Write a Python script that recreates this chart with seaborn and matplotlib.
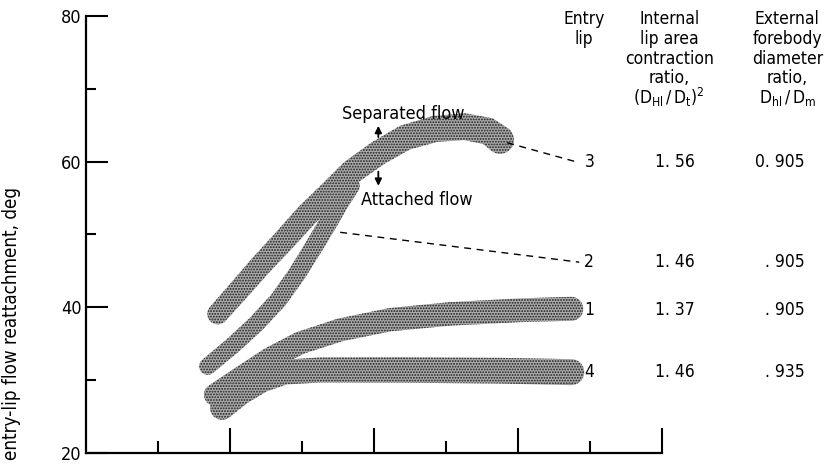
import numpy as np
import matplotlib
matplotlib.use("Agg")
import matplotlib.pyplot as plt
import seaborn as sns
import pandas as pd
from matplotlib.patches import Polygon

sns.set_theme(style="white")
plt.rcParams['font.family'] = ['DejaVu Sans Condensed', 'Liberation Sans Narrow', 'DejaVu Sans']
plt.rcParams['font.stretch'] = 'condensed'
plt.rcParams['hatch.linewidth'] = 0.9
plt.rcParams['mathtext.fontset'] = 'dejavusans'
for k in ['text.color', 'axes.labelcolor', 'xtick.color', 'ytick.color']:
    plt.rcParams[k] = 'black'

# ---------------- data ----------------
# band centre lines: x (axis units), y = reattachment angle, deg
band3_x = [1.83, 2.11, 2.42, 2.75, 3.07, 3.39, 3.69, 4.06, 4.43, 4.85, 5.26, 5.58, 5.75]
band3_y = [39.1, 42.2, 45.7, 49.2, 52.7, 55.7, 58.6, 61.2, 63.3, 64.5, 64.8, 64.2, 63.0]
band2_x = [1.69, 2.03, 2.36, 2.67, 2.93, 3.15, 3.35, 3.51, 3.67]
band2_y = [31.9, 34.7, 37.7, 41.0, 44.6, 48.1, 51.4, 54.2, 56.7]
band1_x = [1.79, 2.14, 2.56, 2.97, 3.53, 4.22, 5.06, 6.03, 6.74]
band1_y = [28.0, 30.3, 33.0, 35.1, 36.9, 38.3, 39.1, 39.6, 39.8]
band4_x = [1.89, 2.14, 2.44, 2.76, 3.25, 4.36, 5.75, 6.74]
band4_y = [26.2, 28.2, 30.0, 31.1, 31.4, 31.4, 31.3, 31.1]

# leader lines (dashed) from band to its label
lead3_x = [5.85, 6.80]
lead3_y = [62.6, 60.0]
lead2_x = [3.53, 6.85]
lead2_y = [50.3, 46.2]

entry_lips = ["3", "2", "1", "4"]
row_y = [60.0, 46.2, 39.6, 31.1]
internal_ratio = ["1. 56", "1. 46", "1. 37", "1. 46"]
external_ratio = ["0. 905", ". 905", ". 905", ". 935"]

y_major = [20, 40, 60, 80]
y_minor = [30, 50, 70]
x_major = [2, 4, 6, 8]
x_minor = [1, 3, 5, 7]
y_label = "entry-lip flow reattachment, deg"

# ---------------- figure ----------------
fig = plt.figure(figsize=(8.27, 4.65), dpi=100)
ax = fig.add_axes([0.104, 0.0258, 0.6965, 0.9398])
ax.set_xlim(0, 8)
ax.set_ylim(20, 80)
for s in ["top", "right"]:
    ax.spines[s].set_visible(False)
for s in ["left", "bottom"]:
    ax.spines[s].set_color("black")
    ax.spines[s].set_linewidth(1.6)

ax.set_yticks(y_major)
ax.set_yticks(y_minor, minor=True)
ax.set_xticks(x_major)
ax.set_xticks(x_minor, minor=True)
ax.set_xticklabels([])
ax.tick_params(axis="y", which="major", direction="in", length=16, width=1.5,
               labelsize=13, pad=3, left=True)
ax.tick_params(axis="y", which="minor", direction="in", length=7, width=1.5, left=True)
ax.tick_params(axis="x", which="major", direction="in", length=18, width=1.5, bottom=True)
ax.tick_params(axis="x", which="minor", direction="in", length=9, width=1.5, bottom=True)
fig.canvas.draw()


def band_patch(xs, ys, hw0, hw1):
    P = ax.transData.transform(np.column_stack([xs, ys]))
    d = np.gradient(P, axis=0)
    t = d / np.linalg.norm(d, axis=1)[:, None]
    n = np.column_stack([-t[:, 1], t[:, 0]])
    hw = np.linspace(hw0, hw1, len(P))[:, None]
    left = P + n * hw
    right = P - n * hw
    a1 = np.arctan2(n[-1, 1], n[-1, 0])
    th1 = np.linspace(a1, a1 - np.pi, 16)
    cap1 = P[-1] + hw1 * np.column_stack([np.cos(th1), np.sin(th1)])
    a0 = np.arctan2(n[0, 1], n[0, 0])
    th0 = np.linspace(a0 - np.pi, a0 - 2 * np.pi, 16)
    cap0 = P[0] + hw0 * np.column_stack([np.cos(th0), np.sin(th0)])
    poly = np.vstack([left, cap1, right[::-1], cap0])
    poly = ax.transData.inverted().transform(poly)
    return Polygon(poly, closed=True, facecolor="#ababab", edgecolor="#1e1e1e",
                   hatch="......", linewidth=0, zorder=2)


for xs, ys, h0, h1 in [(band3_x, band3_y, 10.5, 14), (band2_x, band2_y, 8.5, 9.5),
                       (band1_x, band1_y, 11, 12), (band4_x, band4_y, 12, 13)]:
    ax.add_patch(band_patch(xs, ys, h0, h1))

# dashed leaders
for lx, ly in [(lead3_x, lead3_y), (lead2_x, lead2_y)]:
    df = pd.DataFrame({"x": lx, "y": ly})
    sns.lineplot(data=df, x="x", y="y", ax=ax, color="black", lw=1.0,
                 linestyle=(0, (5, 4)), sort=False)
ax.set_xlabel("")
ax.set_ylabel("")

# table
fs = 12.5
for lab, yy, a, b in zip(entry_lips, row_y, internal_ratio, external_ratio):
    ax.text(6.99, yy, lab, ha="center", va="center", fontsize=fs, clip_on=False)
    ax.text(8.45, yy, a, ha="right", va="center", fontsize=fs, clip_on=False)
    ax.text(9.98, yy, b, ha="right", va="center", fontsize=fs, clip_on=False)

hy = [79.6, 76.9, 74.1, 71.5, 68.8]
for i, s in enumerate(["Entry", "lip"]):
    ax.text(6.92, hy[i], s, ha="center", va="center", fontsize=fs, clip_on=False)
for i, s in enumerate(["Internal", "lip area", "contraction", "ratio,",
                       r"$(\mathrm{D}_{\mathrm{Hl}}\,/\,\mathrm{D}_{\mathrm{t}})^2$"]):
    ax.text(8.10, hy[i], s, ha="center", va="center", fontsize=fs, clip_on=False)
for i, s in enumerate(["External", "forebody", "diameter", "ratio,",
                       r"$\mathrm{D}_{\mathrm{hl}}\,/\,\mathrm{D}_{\mathrm{m}}$"]):
    ax.text(9.74, hy[i], s, ha="center", va="center", fontsize=fs, clip_on=False)

# flow annotations
ax.text(4.40, 66.6, "Separated flow", ha="center", va="center", fontsize=13)
ax.annotate("", xy=(4.06, 65.3), xytext=(4.06, 63.0),
            arrowprops=dict(arrowstyle="-|>", color="black", lw=1.3, mutation_scale=10))
ax.annotate("", xy=(4.06, 56.3), xytext=(4.06, 59.0),
            arrowprops=dict(arrowstyle="-|>", color="black", lw=1.3, mutation_scale=10))
ax.text(4.60, 54.8, "Attached flow", ha="center", va="center", fontsize=13)

fig.text(12 / 827, 5 / 465, y_label, rotation=90, ha="center", va="bottom", fontsize=13.5)

fig.savefig("out.png", dpi=100)
